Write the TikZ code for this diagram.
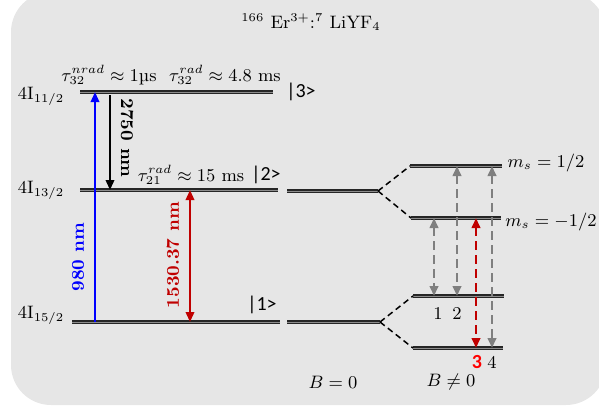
\documentclass[tikz,border=0pt]{standalone}
\usepackage{fontspec}
\newfontfamily\calib{Carlito}
\usetikzlibrary{arrows.meta}
\definecolor{bgc}{HTML}{E6E6E6}
\definecolor{dred}{HTML}{C00000}
\definecolor{tgray}{HTML}{7F7F7F}
\begin{document}
\begin{tikzpicture}[x=0.5pt,y=-0.5pt,
  every node/.style={font=\fontsize{9}{11}\selectfont, inner sep=0pt},
  level/.style={draw=black!85, double=black!45, line width=0.75pt, double distance=0.5pt},
  split/.style={draw=black, line width=0.75pt, dash pattern=on 3pt off 2pt},
  tip/.style={-{Triangle[length=5pt,width=4.2pt]}},
  btip/.style={{Triangle[length=5pt,width=4.2pt]}-{Triangle[length=5pt,width=4.2pt]}},
  trans/.style={btip, line width=1.4pt, dash pattern=on 4.5pt off 2.5pt},
  lbl/.style={font=\fontsize{9}{11}\selectfont\bfseries},
  sflbl/.style={font=\fontsize{10}{12}\selectfont\calib\bfseries},
  ket/.style={font=\fontsize{10}{12}\selectfont\calib}]
\useasboundingbox (0,0) rectangle (599,408);
\fill[bgc, rounded corners=20pt] (11,-8) rectangle (606,405);

% title
\node (title) at (311,22) {$^{166}$ Er$^{3+}$:$^{7}$ LiYF$_4$};

% levels (left)
\coordinate (L3a) at (80,92);  \coordinate (L3b) at (273,92);
\coordinate (L2a) at (80,190); \coordinate (L2b) at (278,190);
\coordinate (L1a) at (72,322); \coordinate (L1b) at (280,322);
\draw[level] (L3a) -- (L3b);
\draw[level] (L2a) -- (L2b);
\draw[level] (L1a) -- (L1b);

% B=0 levels
\coordinate (M2a) at (287,191); \coordinate (M2b) at (378,191);
\coordinate (M1a) at (287,322); \coordinate (M1b) at (380,322);
\draw[level] (M2a) -- (M2b);
\draw[level] (M1a) -- (M1b);

% split levels
\coordinate (U2a) at (410,166); \coordinate (U2b) at (502,166);
\coordinate (D2a) at (411,218); \coordinate (D2b) at (501,218);
\coordinate (U1a) at (413,296); \coordinate (U1b) at (504,296);
\coordinate (D1a) at (413,348); \coordinate (D1b) at (503,348);
\draw[level] (U2a) -- (U2b);
\draw[level] (D2a) -- (D2b);
\draw[level] (U1a) -- (U1b);
\draw[level] (D1a) -- (D1b);
\draw[split] (M2b) -- (U2a);
\draw[split] (M2b) -- (D2a);
\draw[split] (M1b) -- (U1a);
\draw[split] (M1b) -- (D1a);

% level labels
\node (n3) at (41,96) {4I$_{11/2}$};
\node (n2) at (41,190) {4I$_{13/2}$};
\node (n1) at (41,315) {4I$_{15/2}$};
\node[ket] (k3) at (301,92) {|3>};
\node[ket] (k2) at (266,175) {|2>};
\node[ket] (k1) at (262,305) {|1>};
\node (t32a) at (109,75) {$\tau_{32}^{nrad}\approx 1$µs};
\node (t32b) at (225,75) {$\tau_{32}^{rad}\approx 4.8$ ms};
\node (t21) at (191,175) {$\tau_{21}^{rad}\approx 15$ ms};

% optical transitions
\coordinate (bB) at (95,322); \coordinate (bT) at (95,92);
\draw[tip, blue, line width=1.1pt] (bB) -- (bT);
\node[lbl, blue, rotate=90] (l980) at (78,257) {980 nm};
\coordinate (kT) at (110,95); \coordinate (kB) at (110,190);
\draw[tip, black, line width=1.1pt] (kT) -- (kB);
\node[lbl, rotate=-90] (l2750) at (127,138) {2750 nm};
\coordinate (rT) at (190,190); \coordinate (rB) at (190,322);
\draw[btip, dred, line width=1.1pt] (rT) -- (rB);
\node[lbl, dred, rotate=90] (l1530) at (173,255) {1530.37 nm};

% Zeeman transitions
\coordinate (a1t) at (434,218); \coordinate (a1b) at (434,296);
\coordinate (a2t) at (457,166); \coordinate (a2b) at (457,296);
\coordinate (a3t) at (476,218); \coordinate (a3b) at (476,348);
\coordinate (a4t) at (492,166); \coordinate (a4b) at (492,348);
\draw[trans, tgray] (a1t) -- (a1b);
\draw[trans, tgray] (a2t) -- (a2b);
\draw[trans, tgray] (a4t) -- (a4b);
\draw[trans, dred] (a3t) -- (a3b);
\node (c1) at (438,313) {1};
\node (c2) at (457,313) {2};
\node[sflbl, red] (c3) at (477,362) {3};
\node (c4) at (492,362) {4};

\node (ms1) at (546,163) {$m_s = 1/2$};
\node (ms2) at (551,222) {$m_s = -1/2$};
\node (b0) at (333,382) {$B = 0$};
\node (b1) at (451,382) {$B \neq 0$};
\end{tikzpicture}
\end{document}
